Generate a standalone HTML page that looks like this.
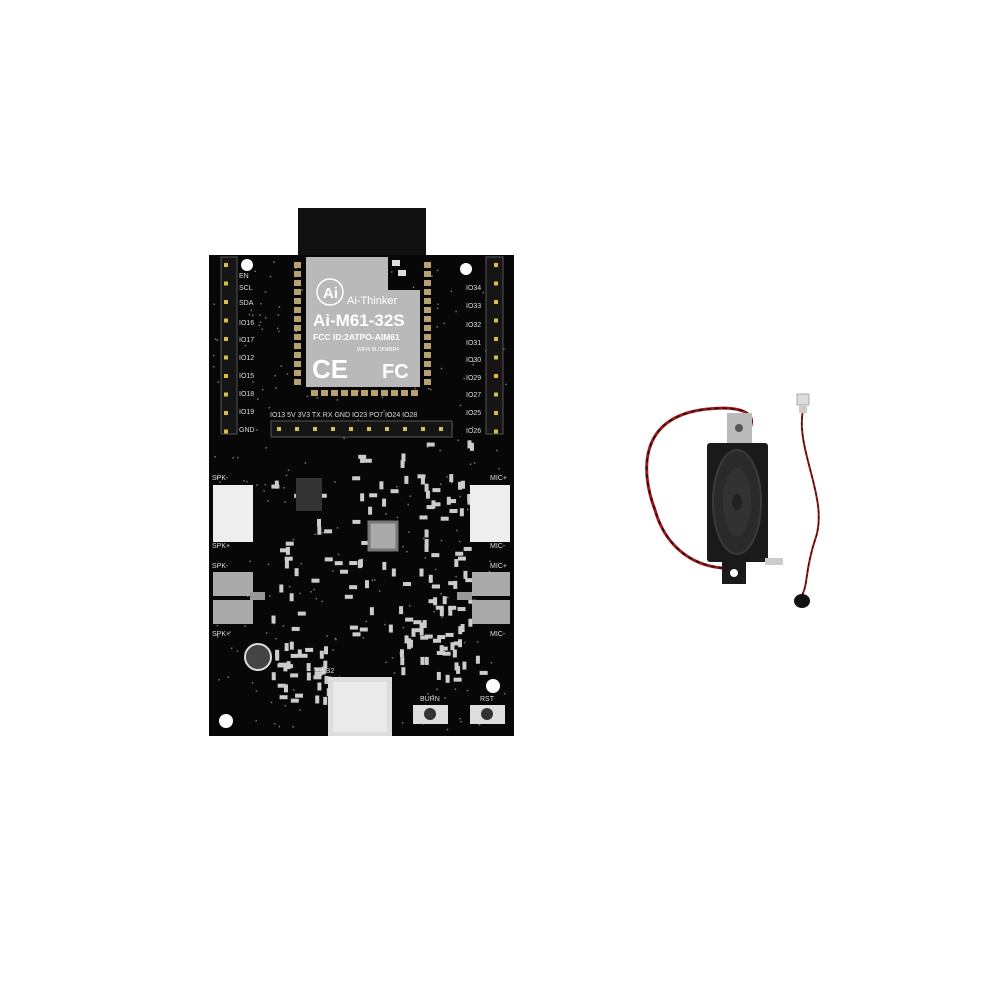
<!DOCTYPE html>
<html><head><meta charset="utf-8"><style>
html,body{margin:0;padding:0;background:#fff;width:1000px;height:1000px;overflow:hidden}
svg{display:block}
text{font-family:"Liberation Sans",sans-serif;fill:#ddd}
</style></head><body>
<svg id="s" width="1000" height="1000" viewBox="0 0 1000 1000" xmlns="http://www.w3.org/2000/svg">
<rect width="1000" height="1000" fill="#fff"/>
<rect x="298" y="208" width="128" height="50" fill="#111"/>
<rect x="209" y="255" width="305" height="481" fill="#070707"/>
<g id="dots"></g>
<path d="M306 257 H388 V290 H420 V387 H306 Z" fill="#b9b9b9"/>
<rect x="392" y="260" width="8" height="6" fill="#ddd"/><rect x="398" y="270" width="8" height="6" fill="#ddd"/>
<circle cx="330" cy="292" r="13" fill="none" stroke="#fff" stroke-width="1.5"/>
<text x="323" y="298" font-size="15" font-weight="bold" style="fill:#fff">Ai</text>
<text x="347" y="304" font-size="11" style="fill:#fff">Ai-Thinker</text>
<text x="313" y="326" font-size="17" font-weight="bold" style="fill:#fff">Ai-M61-32S</text>
<text x="313" y="340" font-size="8.5" font-weight="bold" style="fill:#fff">FCC ID:2ATPO-AIM61</text>
<text x="357" y="351" font-size="5" style="fill:#fff">WIFI6 BLOFN8IR4</text>
<text x="312" y="378" font-size="26" font-weight="bold" style="fill:#fff">CE</text>
<text x="382" y="378" font-size="20" font-weight="bold" style="fill:#fff">FC</text>
<g id="gen"></g>
<rect x="221" y="257" width="16" height="177" fill="#151515" stroke="#555"/>
<rect x="486" y="257" width="17" height="177" fill="#151515" stroke="#555"/>
<rect x="271" y="421" width="181" height="16" fill="#151515" stroke="#555"/>
<g font-size="7">
<text x="239" y="278">EN</text><text x="239" y="290">SCL</text><text x="239" y="305">SDA</text><text x="239" y="325">IO16</text><text x="239" y="342">IO17</text><text x="239" y="360">IO12</text><text x="239" y="378">IO15</text><text x="239" y="396">IO18</text><text x="239" y="414">IO19</text><text x="239" y="432">GND</text>
<text x="466" y="290">IO34</text><text x="466" y="308">IO33</text><text x="466" y="327">IO32</text><text x="466" y="345">IO31</text><text x="466" y="362">IO30</text><text x="466" y="380">IO29</text><text x="466" y="397">IO27</text><text x="466" y="415">IO25</text><text x="466" y="433">IO26</text>
<text x="270" y="417">IO13  5V  3V3   TX   RX  GND  IO23  PO7  IO24 IO28</text>
<text x="212" y="480">SPK-</text><text x="212" y="548">SPK+</text><text x="212" y="568">SPK-</text><text x="212" y="636">SPK+</text>
<text x="490" y="480">MIC+</text><text x="490" y="548">MIC-</text><text x="490" y="568">MIC+</text><text x="490" y="636">MIC-</text>
<text x="420" y="701">BURN</text><text x="480" y="701">RST</text><text x="316" y="673">USB2</text>
</g>
<circle cx="247" cy="265" r="6" fill="#fff"/><circle cx="466" cy="269" r="6" fill="#fff"/>
<circle cx="226" cy="721" r="7" fill="#fff"/><circle cx="493" cy="686" r="7" fill="#fff"/>
<rect x="213" y="485" width="40" height="57" fill="#eee"/><rect x="470" y="485" width="40" height="57" fill="#eee"/>
<rect x="213" y="572" width="40" height="24" fill="#aaa"/><rect x="213" y="600" width="40" height="24" fill="#aaa"/><rect x="250" y="592" width="15" height="8" fill="#999"/>
<rect x="472" y="572" width="38" height="24" fill="#aaa"/><rect x="472" y="600" width="38" height="24" fill="#aaa"/><rect x="457" y="592" width="15" height="8" fill="#999"/>
<rect x="296" y="478" width="26" height="33" fill="#333"/>
<rect x="369" y="522" width="28" height="28" fill="#aaa" stroke="#777" stroke-width="3"/>
<circle cx="258" cy="657" r="13" fill="#444" stroke="#ddd" stroke-width="2"/>
<rect x="328" y="677" width="64" height="59" fill="#ddd"/><rect x="333" y="682" width="54" height="50" fill="#eaeaea"/>
<rect x="413" y="705" width="35" height="19" fill="#ddd"/><circle cx="430" cy="714" r="6" fill="#333"/>
<rect x="470" y="705" width="35" height="19" fill="#ddd"/><circle cx="487" cy="714" r="6" fill="#333"/>
<path d="M749 430 C760 410 735 405 700 410 C640 420 640 470 655 510 C665 545 690 565 722 568" fill="none" stroke="#a01818" stroke-width="3"/>
<path d="M749 430 C760 410 735 405 700 410 C640 420 640 470 655 510 C665 545 690 565 722 568" fill="none" stroke="#111" stroke-width="1.5" stroke-dasharray="4 4"/>
<rect x="727" y="413" width="25" height="32" fill="#bbb"/><circle cx="739" cy="428" r="4" fill="#555"/>
<rect x="707" y="443" width="61" height="119" rx="3" fill="#1a1a1a"/>
<ellipse cx="737" cy="502" rx="24" ry="52" fill="#2a2a2a" stroke="#3a3a3a" stroke-width="2"/>
<ellipse cx="737" cy="502" rx="14" ry="34" fill="#323232"/>
<ellipse cx="737" cy="502" rx="5" ry="8" fill="#222"/>
<rect x="722" y="560" width="24" height="24" fill="#1a1a1a"/><circle cx="734" cy="573" r="4" fill="#fff"/>
<rect x="765" y="558" width="18" height="7" fill="#ccc"/>
<path d="M803 410 C795 450 830 500 815 540 C805 570 808 585 802 595" fill="none" stroke="#9a1818" stroke-width="2"/>
<path d="M803 410 C795 450 830 500 815 540 C805 570 808 585 802 595" fill="none" stroke="#111" stroke-width="1" stroke-dasharray="3 3"/>
<rect x="797" y="394" width="12" height="11" fill="#ddd" stroke="#aaa"/><rect x="799" y="405" width="8" height="8" fill="#ccc"/>
<ellipse cx="802" cy="601" rx="8" ry="7" fill="#111"/>
</svg>
<script>
var g=document.getElementById('gen'),d=document.getElementById('dots'),NS='http://www.w3.org/2000/svg';
function r(x,y,w,h,f,p){var e=document.createElementNS(NS,'rect');e.setAttribute('x',x);e.setAttribute('y',y);e.setAttribute('width',w);e.setAttribute('height',h);e.setAttribute('fill',f);(p||g).appendChild(e);}
for(var i=0;i<14;i++){r(294,262+i*9,7,6,'#b8a070');r(424,262+i*9,7,6,'#b8a070');}
for(var i=0;i<11;i++)r(311+i*10,390,7,6,'#b8a070');
var s=document.getElementById('s');
function pin(x,y){var e=document.createElementNS(NS,'rect');e.setAttribute('x',x-2);e.setAttribute('y',y-2);e.setAttribute('width',4);e.setAttribute('height',4);e.setAttribute('fill','#d8c040');s.appendChild(e);}
for(var i=0;i<10;i++){pin(226,265+i*18.5);pin(496,265+i*18.5);pin(279+i*18,429);}
var seed=7;function rnd(){seed=(seed*9301+49297)%233280;return seed/233280;}
var zones=[[270,445,200,110],[270,555,180,80],[270,640,60,60],[400,620,80,60],[420,440,50,200]];
zones.forEach(function(z){for(var k=0;k<35;k++){var x=z[0]+rnd()*z[2],y=z[1]+rnd()*z[3];var v=rnd()<0.5;r(x,y,v?4:8,v?8:4,'#ccc');}});
for(var k=0;k<300;k++){r(212+rnd()*298,258+rnd()*475,1.5,1.5,'#777',d);}
</script>
</body></html>
